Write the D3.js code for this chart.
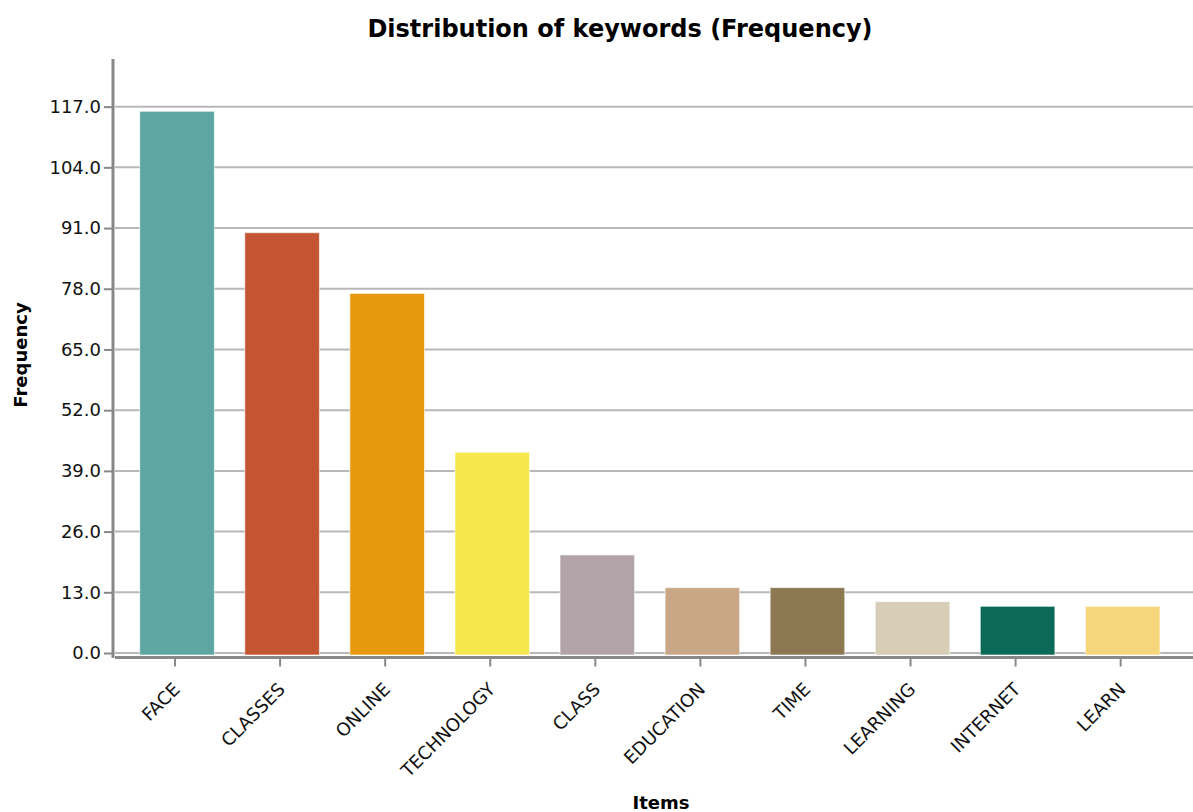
<!DOCTYPE html>
<html><head><meta charset="utf-8">
<script src="https://cdn.jsdelivr.net/npm/d3@7"></script>
<style>body{margin:0;background:#fff;} svg{display:block;}</style>
</head><body>
<svg id="chart" width="1193" height="812"></svg>
<script>
const categories = ["FACE","CLASSES","ONLINE","TECHNOLOGY","CLASS","EDUCATION","TIME","LEARNING","INTERNET","LEARN"];
const frequencies = [116, 90, 77, 43, 21, 14, 14, 11, 10, 10];
const colors = ["#5ea6a1","#c45533","#e8980d","#f5e84c","#b1a3a7","#c9a786","#8c7853","#d8cdb6","#0b6957","#f6d67b"];
const yTicks = [0,13,26,39,52,65,78,91,104,117];

const svg = d3.select("#chart");
const font = "'DejaVu Sans', Verdana, sans-serif";

const x = d3.scaleBand().domain(categories).range([124.5, 1175.2]).paddingInner(0.29).paddingOuter(0.145);
const y = d3.scaleLinear().domain([0, 127.2]).range([653, 59]);

// grid
svg.append("g").selectAll("line").data(yTicks).join("line")
  .attr("x1", 115).attr("x2", 1193)
  .attr("y1", d => y(d)).attr("y2", d => y(d))
  .attr("stroke", "#b8b8b8").attr("stroke-width", 2);

// bars
svg.append("g").selectAll("rect").data(categories).join("rect")
  .attr("x", d => x(d)).attr("width", x.bandwidth())
  .attr("y", (d,i) => y(frequencies[i])).attr("height", (d,i) => y(0) - y(frequencies[i]) + 2)
  .attr("fill", (d,i) => colors[i])
  .attr("stroke", "#ffffff").attr("stroke-opacity", 0.6).attr("stroke-width", 1);

// y axis
const yAxis = svg.append("g").attr("transform", "translate(113,0)")
  .call(d3.axisLeft(y).tickValues(yTicks).tickFormat(d3.format(".1f")).tickSize(9).tickSizeOuter(0));
yAxis.select(".domain").remove();
yAxis.append("line").attr("x1",0).attr("x2",0).attr("y1",59).attr("y2",658).attr("stroke","#888").attr("stroke-width",3);
yAxis.selectAll(".tick line").attr("stroke","#888").attr("stroke-width",2);
yAxis.selectAll(".tick text").attr("font-family", font).attr("font-size", 18).attr("fill","#111").attr("x",-12);

// x axis
const xAxis = svg.append("g").attr("transform", "translate(-2,657.5)")
  .call(d3.axisBottom(x).tickSize(9).tickSizeOuter(0));
xAxis.select(".domain").remove();
xAxis.append("line").attr("x1",117).attr("x2",1195).attr("y1",0).attr("y2",0).attr("stroke","#888").attr("stroke-width",3);
xAxis.selectAll(".tick line").attr("stroke","#888").attr("stroke-width",2);
xAxis.selectAll(".tick text")
  .attr("font-family", font).attr("font-size", 18).attr("fill","#111")
  .attr("text-anchor","end").attr("dy", null).attr("y", 0).attr("x", 0)
  .attr("transform","translate(6,33) rotate(-45)");

// title
svg.append("text").attr("x", 620).attr("y", 37).attr("text-anchor","middle")
  .attr("font-family", font).attr("font-weight","bold").attr("font-size", 24).attr("fill","#000")
  .text("Distribution of keywords (Frequency)");

svg.append("text").attr("transform","translate(27,355) rotate(-90)").attr("text-anchor","middle")
  .attr("font-family", font).attr("font-weight","bold").attr("font-size", 18).attr("fill","#000")
  .text("Frequency");

svg.append("text").attr("x", 661).attr("y", 809).attr("text-anchor","middle")
  .attr("font-family", font).attr("font-weight","bold").attr("font-size", 18).attr("fill","#000")
  .text("Items");
</script>
</body></html>
